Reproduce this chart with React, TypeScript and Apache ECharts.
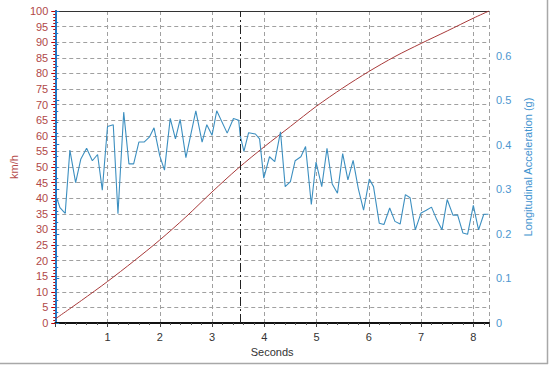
import React, { useEffect, useRef } from "react";
import * as echarts from "echarts";

// Speed (km/h) readings
const speedTime = [0, 0.5, 1.0, 1.5, 2.0, 2.5, 3.0, 3.5, 4.0, 4.5, 5.0, 5.5, 6.0, 6.5, 7.0, 7.5, 8.0, 8.3];
const speedKmh = [1.3, 7.2, 13.3, 19.8, 26.6, 34.0, 42.0, 49.6, 56.5, 63.0, 69.5, 75.3, 80.6, 85.4, 89.6, 93.6, 97.7, 100];

// Longitudinal acceleration (g) readings
const accTime = [
  0.03, 0.09, 0.19, 0.28, 0.39, 0.49, 0.6, 0.71, 0.81, 0.9,
  1.0, 1.11, 1.2, 1.31, 1.41, 1.5, 1.6, 1.7, 1.8, 1.89,
  2.0, 2.09, 2.2, 2.3, 2.39, 2.5, 2.69, 2.81, 2.9, 3.0,
  3.09, 3.29, 3.41, 3.51, 3.54, 3.61, 3.7, 3.83, 3.91, 3.99,
  4.1, 4.2, 4.31, 4.4, 4.5, 4.59, 4.7, 4.79, 4.9, 4.99,
  5.1, 5.2, 5.3, 5.4, 5.5, 5.6, 5.7, 5.8, 5.9, 6.01,
  6.09, 6.2, 6.29, 6.4, 6.5, 6.6, 6.7, 6.79, 6.89, 7.0,
  7.1, 7.2, 7.3, 7.4, 7.5, 7.61, 7.7, 7.8, 7.89, 8.0,
  8.1, 8.2, 8.29,
];
const accG = [
  0.28, 0.259, 0.246, 0.388, 0.315, 0.368, 0.392, 0.364, 0.378, 0.298,
  0.441, 0.445, 0.245, 0.473, 0.357, 0.357, 0.406, 0.406, 0.417, 0.438,
  0.375, 0.343, 0.459, 0.413, 0.457, 0.371, 0.476, 0.406, 0.445, 0.421,
  0.476, 0.426, 0.459, 0.455, 0.42, 0.385, 0.427, 0.424, 0.413, 0.325,
  0.373, 0.362, 0.429, 0.306, 0.317, 0.364, 0.373, 0.396, 0.266, 0.361,
  0.306, 0.392, 0.312, 0.291, 0.38, 0.321, 0.365, 0.301, 0.253, 0.323,
  0.306, 0.224, 0.221, 0.258, 0.228, 0.222, 0.288, 0.281, 0.209, 0.247,
  0.253, 0.26, 0.232, 0.209, 0.277, 0.242, 0.242, 0.202, 0.199, 0.264,
  0.209, 0.244, 0.244,
];

const markerTime = 3.54;

const FONT = "Liberation Sans";

export default function App() {
  const ref = useRef<HTMLDivElement>(null);
  useEffect(() => {
    const chart = echarts.init(ref.current!, undefined, { renderer: "svg" });
    const speedData = speedTime.map((t, i) => [t, speedKmh[i]]);
    const accData = accTime.map((t, i) => [t, accG[i]]);
    chart.setOption({
      animation: false,
      backgroundColor: "#ffffff",
      textStyle: { fontFamily: FONT },
      grid: { left: 55, right: 61, top: 11, bottom: 43, containLabel: false },
      xAxis: [
        {
          type: "value",
          min: 0,
          max: 8.3,
          interval: 1,
          name: "Seconds",
          nameLocation: "middle",
          nameGap: 19,
          nameTextStyle: { color: "#333", fontSize: 11, fontFamily: FONT },
          axisLine: { show: true, onZero: false, lineStyle: { color: "#111", width: 2 } },
          axisTick: { show: true, length: 4, lineStyle: { color: "#444" } },
          minorTick: { show: true, splitNumber: 5, length: 2, lineStyle: { color: "#555" } },
          axisLabel: {
            color: "#333",
            fontSize: 11,
            margin: 8,
            fontFamily: FONT,
            formatter: (v: number) => (v > 0 && Math.abs(v - Math.round(v)) < 1e-6 ? String(Math.round(v)) : ""),
          },
          splitLine: { show: true, lineStyle: { color: "#a0a0a0", type: [4, 3], width: 1 } },
        },
        {
          type: "value",
          position: "top",
          min: 0,
          max: 8.3,
          axisLine: { show: true, onZero: false, lineStyle: { color: "#333", width: 1 } },
          axisTick: { show: false },
          axisLabel: { show: false },
          splitLine: { show: false },
        },
      ],
      yAxis: [
        {
          type: "value",
          min: 0,
          max: 100,
          interval: 5,
          position: "left",
          name: "km/h",
          nameLocation: "middle",
          nameGap: 29,
          nameRotate: 90,
          nameTextStyle: { color: "#b54a4a", fontSize: 11, fontFamily: FONT },
          axisLine: { show: true, lineStyle: { color: "#c00000", width: 2 } },
          axisTick: { show: true, length: 4, lineStyle: { color: "#c00000" } },
          minorTick: { show: true, splitNumber: 5, length: 2, lineStyle: { color: "#c00000" } },
          axisLabel: { color: "#b04848", fontSize: 11, margin: 7, fontFamily: FONT },
          splitLine: { show: true, lineStyle: { color: "#a0a0a0", type: [4, 3], width: 1 } },
        },
        {
          type: "value",
          min: 0,
          max: 0.7,
          interval: 0.1,
          position: "right",
          name: "Longitudinal Acceleration (g)",
          nameLocation: "middle",
          nameGap: 22,
          nameRotate: 90,
          nameTextStyle: { color: "#3f93cf", fontSize: 11, fontFamily: FONT },
          axisLine: { show: true, lineStyle: { color: "#1f78c8", width: 2 } },
          axisTick: { show: true, length: 4, lineStyle: { color: "#1f78c8" } },
          minorTick: { show: true, splitNumber: 4, length: 3, lineStyle: { color: "#1f78c8" } },
          axisLabel: {
            color: "#4d96cf",
            fontSize: 11,
            margin: 7,
            fontFamily: FONT,
            formatter: (v: number) => (v > 0.65 ? "" : v === 0 ? "0" : v.toFixed(1)),
          },
          splitLine: { show: false },
        },
      ],
      series: [
        {
          type: "line",
          name: "Speed",
          xAxisIndex: 0,
          yAxisIndex: 0,
          data: speedData,
          showSymbol: false,
          symbol: "none",
          smooth: 0.3,
          lineStyle: { color: "#a83a3a", width: 1 },
          z: 3,
          markLine: {
            silent: true,
            symbol: "none",
            label: { show: false },
            lineStyle: { color: "#222", type: [9, 3, 2, 3], width: 1 },
            data: [{ xAxis: markerTime }],
          },
        },
        {
          type: "line",
          name: "Acceleration",
          xAxisIndex: 0,
          yAxisIndex: 1,
          data: accData,
          showSymbol: false,
          symbol: "none",
          lineStyle: { color: "#3c8fc0", width: 1.1 },
          z: 4,
        },
      ],
      graphic: [
        { type: "line", shape: { x1: 547.5, y1: 0, x2: 547.5, y2: 364 }, style: { stroke: "#a8a8a8", lineWidth: 1.5 } },
        { type: "line", shape: { x1: 0, y1: 363.5, x2: 548, y2: 363.5 }, style: { stroke: "#a8a8a8", lineWidth: 1.5 } },
      ],
    });
    return () => chart.dispose();
  }, []);
  return (
    <div
      ref={ref}
      style={{ position: "fixed", left: 0, top: 0, width: 550, height: 366, background: "#fff" }}
    />
  );
}
